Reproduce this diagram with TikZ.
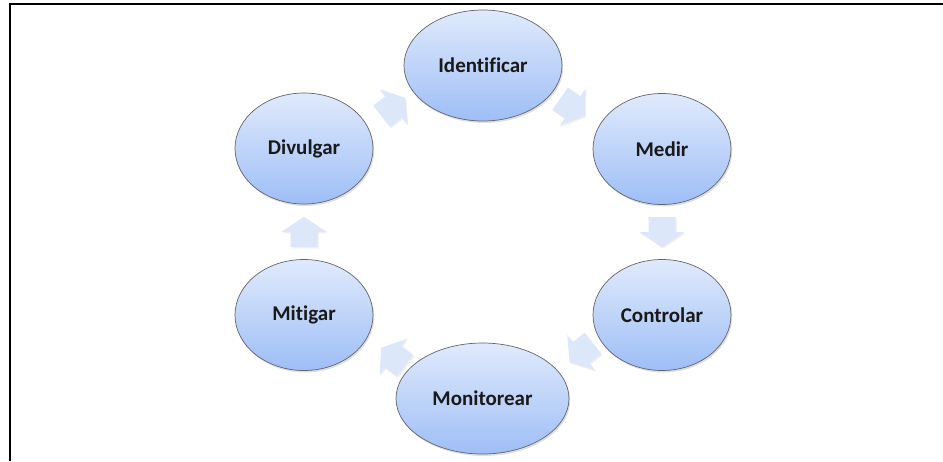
\documentclass[tikz,border=0pt]{standalone}
\usepackage{fontspec}
\setmainfont{Carlito}[Ligatures=NoCommon]
\usetikzlibrary{shapes.geometric,shadows,calc}
\definecolor{elltop}{RGB}{224,234,252}
\definecolor{ellbot}{RGB}{158,190,246}
\definecolor{ellline}{RGB}{100,100,106}
\definecolor{arrfill}{RGB}{221,231,250}
\begin{document}
\begin{tikzpicture}[x=1pt,y=-1pt,
  phase/.style={ellipse, draw=ellline, line width=0.7pt, top color=elltop,
    bottom color=ellbot, inner sep=0pt, minimum height=111pt,
    font=\fontsize{21}{25}\selectfont\bfseries, text=black!90,
    drop shadow={opacity=0.25, shadow xshift=1.2pt, shadow yshift=-2pt}},
  blockarrow/.style={fill=arrfill, draw=none,
    drop shadow={opacity=0.12, shadow xshift=1pt, shadow yshift=-1.5pt}},
  cyclearrow/.pic={\path[blockarrow] (-15,-13.5) -- (0,-13.5) -- (0,-22.5) -- (15,0)
     -- (0,22.5) -- (0,13.5) -- (-15,13.5) -- cycle;}
]
\useasboundingbox (0,0) rectangle (943,461);
\draw[line width=2pt] (10,461) -- (10,4) -- (943,4);

\node[phase, minimum width=158pt] (ide) at (483,65.5) {Identificar};
\node[phase, minimum width=138pt] (med) at (662,149) {Medir};
\node[phase, minimum width=138pt] (con) at (662,315) {Controlar};
\node[phase, minimum width=173pt] (mon) at (482.5,398.5) {Monitorear};
\node[phase, minimum width=138pt] (mit) at (304,315) {Mitigar};
\node[phase, minimum width=138pt] (div) at (304,148.5) {Divulgar};

\path ($(div)!0.5!(ide)$) pic[rotate=38] {cyclearrow};
\path ($(ide)!0.5!(med)$) pic[rotate=-35] {cyclearrow};
\path ($(med)!0.5!(con)$) pic[rotate=-90] {cyclearrow};
\path ($(con)!0.45!(mon)$) pic[rotate=-141.5] {cyclearrow};
\path ($(mon)!0.5!(mit)$) pic[rotate=143] {cyclearrow};
\path ($(mit)!0.5!(div)$) pic[rotate=90] {cyclearrow};
\end{tikzpicture}
\end{document}
